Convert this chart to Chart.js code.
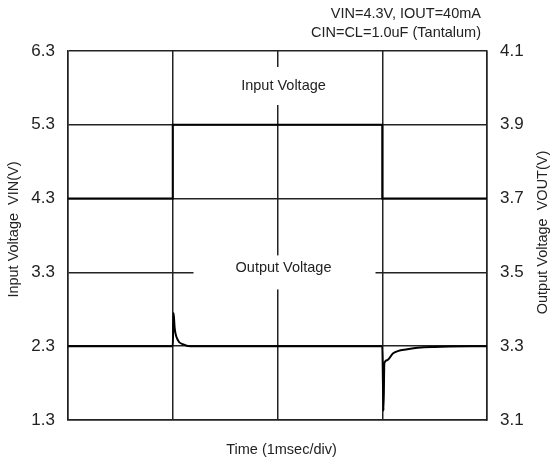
<!DOCTYPE html>
<html>
<head>
<meta charset="utf-8">
<script src="https://cdn.jsdelivr.net/npm/chart.js@4"></script>
<style>
  html, body { margin: 0; padding: 0; background: #fff; }
  #wrap { width: 552px; height: 461px; }
</style>
</head>
<body>
<div id="wrap"><canvas id="chart"></canvas></div>
<script>
// input voltage step (left axis, V)
const vinTime = [0, 1.0, 1.0, 3.0, 3.0, 4.0];
const vinVolts = [4.3, 4.3, 5.3, 5.3, 4.3, 4.3];

// output voltage response (right axis, V)
const voutTime = [0, 1.0, 1.008, 1.018, 1.05, 1.1, 1.165, 3.0, 3.012, 3.02, 3.047, 3.104, 3.24, 3.5, 4.0];
const voutVolts = [3.3, 3.3, 3.39, 3.35, 3.316, 3.305, 3.3, 3.3, 3.125, 3.254, 3.262, 3.281, 3.292, 3.298, 3.3];

const leftTicks = [1.3, 2.3, 3.3, 4.3, 5.3, 6.3];
const rightTicks = [3.1, 3.3, 3.5, 3.7, 3.9, 4.1];

const noteLines = ['VIN=4.3V, IOUT=40mA', 'CIN=CL=1.0uF (Tantalum)'];

const FONT = '"Liberation Sans", Arial, sans-serif';
const INK = '#222';

function toPoints(xs, ys) {
    return xs.map((x, i) => ({ x: x, y: ys[i] }));
}

const textPlugin = {
    id: 'texts',
    afterDraw(chart) {
        const { ctx, chartArea: a, scales } = chart;
        const cx = scales.x.getPixelForValue(2);
        const midY = (a.top + a.bottom) / 2;
        ctx.save();

        // white gaps behind the curve labels
        ctx.fillStyle = '#fff';
        ctx.fillRect(cx - 40, a.top + 16, 90, 38);
        const y33 = scales.y.getPixelForValue(3.3);
        ctx.fillRect(cx - 84, y33 - 17, 182, 34);

        ctx.fillStyle = INK;
        ctx.font = '14.5px ' + FONT;
        ctx.textAlign = 'center';
        ctx.textBaseline = 'middle';
        ctx.fillText('Input Voltage', cx + 6, a.top + 35);
        ctx.fillText('Output Voltage', cx + 6, y33 - 4);

        // x title
        ctx.fillText('Time (1msec/div)', cx + 4, a.bottom + 30);

        // top-right note
        ctx.textAlign = 'right';
        ctx.fillText(noteLines[0], a.right - 6, 14);
        ctx.fillText(noteLines[1], a.right - 6, 33);

        // left title
        ctx.save();
        ctx.translate(14, midY - 6);
        ctx.rotate(-Math.PI / 2);
        ctx.textAlign = 'center';
        ctx.fillText('Input Voltage  VIN(V)', 0, 0);
        ctx.restore();

        // right title
        ctx.save();
        ctx.translate(543, midY - 3);
        ctx.rotate(-Math.PI / 2);
        ctx.textAlign = 'center';
        ctx.fillText('Output Voltage  VOUT(V)', 0, 0);
        ctx.restore();

        ctx.restore();
    }
};

const gridStyle = { color: '#222', lineWidth: 1.5, drawTicks: false };
const borderStyle = { color: '#222', width: 1.5 };

new Chart(document.getElementById('chart'), {
    type: 'scatter',
    data: {
        datasets: [
            {
                label: 'Input Voltage',
                data: toPoints(vinTime, vinVolts),
                showLine: true,
                borderColor: '#000',
                borderWidth: 2,
                pointRadius: 0,
                yAxisID: 'y'
            },
            {
                label: 'Output Voltage',
                data: toPoints(voutTime, voutVolts),
                showLine: true,
                borderColor: '#000',
                borderWidth: 2,
                pointRadius: 0,
                cubicInterpolationMode: 'monotone',
                yAxisID: 'y2'
            }
        ]
    },
    options: {
        responsive: true,
        maintainAspectRatio: false,
        animation: false,
        layout: { padding: { top: 51, right: 0, bottom: 0, left: 0 } },
        plugins: {
            legend: { display: false },
            tooltip: { enabled: false }
        },
        scales: {
            x: {
                type: 'linear',
                min: 0,
                max: 4,
                ticks: { display: false, stepSize: 1 },
                grid: gridStyle,
                border: borderStyle,
                afterFit: (scale) => { scale.height = 41; }
            },
            y: {
                position: 'left',
                min: 1.3,
                max: 6.3,
                afterBuildTicks: (scale) => { scale.ticks = leftTicks.map(v => ({ value: v })); },
                ticks: {
                    padding: 13,
                    color: INK,
                    font: { family: FONT, size: 17 },
                    callback: (v) => Number(v).toFixed(1)
                },
                grid: gridStyle,
                border: borderStyle,
                afterFit: (scale) => { scale.width = 68; }
            },
            y2: {
                position: 'right',
                min: 3.1,
                max: 4.1,
                afterBuildTicks: (scale) => { scale.ticks = rightTicks.map(v => ({ value: v })); },
                ticks: {
                    padding: 13,
                    color: INK,
                    font: { family: FONT, size: 17 },
                    callback: (v) => Number(v).toFixed(1)
                },
                grid: { display: false, drawTicks: false },
                border: borderStyle,
                afterFit: (scale) => { scale.width = 65; }
            }
        }
    },
    plugins: [textPlugin]
});
</script>
</body>
</html>
